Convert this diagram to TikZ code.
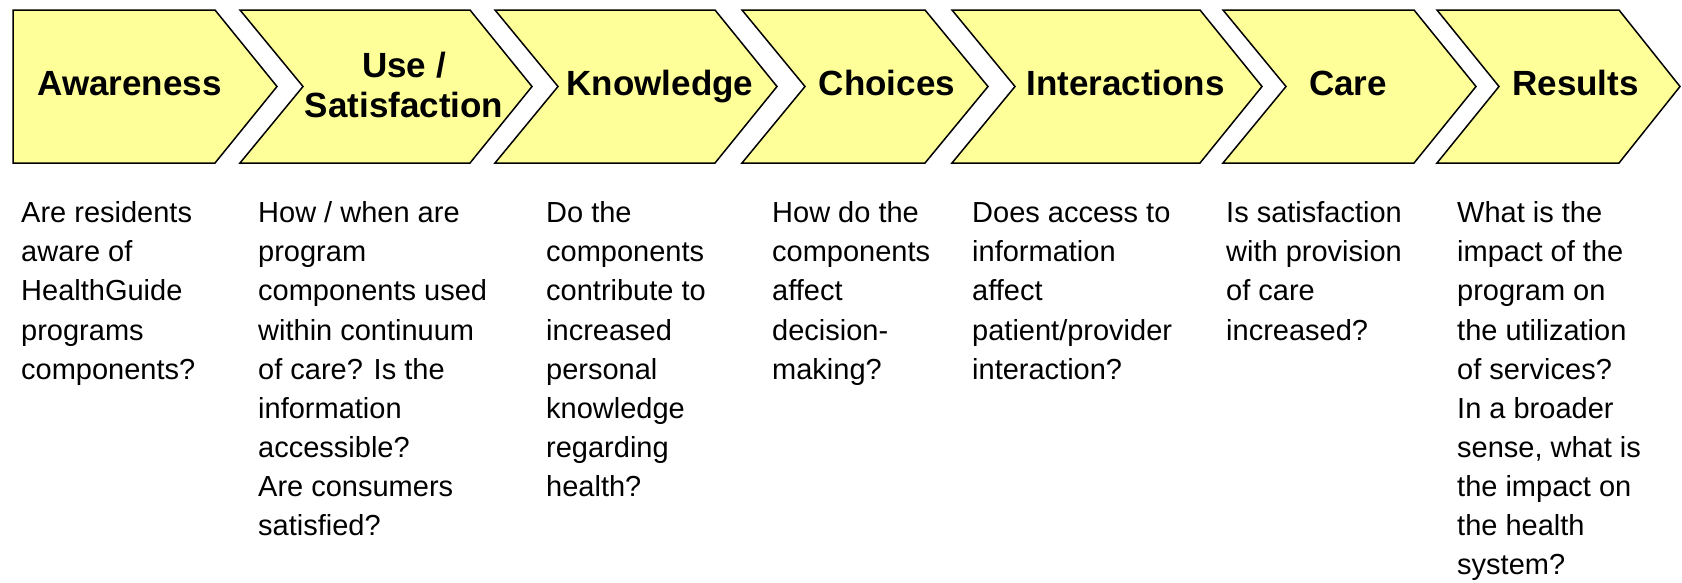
\documentclass[tikz,border=0pt]{standalone}
\usepackage{fontspec}
\setmainfont{Liberation Sans}
\definecolor{chevfill}{HTML}{FFFF99}
\begin{document}
\begin{tikzpicture}[x=1pt,y=-1pt,
  chev/.style={draw=black, line width=1.5pt, fill=chevfill, line join=miter},
  ttl/.style={font=\fontsize{35}{40}\selectfont\bfseries, inner sep=0pt, anchor=base},
  desc/.style={font=\fontsize{29}{39.1}\selectfont, inner sep=0pt, anchor=base west}]
\useasboundingbox (0,0) rectangle (1682,582);
\fill[white] (0,0) rectangle (1682,582);
% chevrons
\path[chev] (13,10) -- (215,10) -- (277,86.5) -- (215,163) -- (13,163) -- cycle;
\path[chev] (240,10) -- (470,10) -- (532,86.5) -- (470,163) -- (240,163) -- (303,86.5) -- cycle;
\path[chev] (495,10) -- (715,10) -- (777,86.5) -- (715,163) -- (495,163) -- (558,86.5) -- cycle;
\path[chev] (742,10) -- (925,10) -- (988,86.5) -- (925,163) -- (742,163) -- (805,86.5) -- cycle;
\path[chev] (952,10) -- (1200,10) -- (1262,86.5) -- (1200,163) -- (952,163) -- (1015,86.5) -- cycle;
\path[chev] (1223,10) -- (1414,10) -- (1476,86.5) -- (1414,163) -- (1223,163) -- (1286,86.5) -- cycle;
\path[chev] (1437,10) -- (1619,10) -- (1680,86.5) -- (1619,163) -- (1437,163) -- (1499,86.5) -- cycle;
% titles
\node[ttl] (t1) at (129.5,95.5) {Awareness};
\node[ttl] (t2) at (404,77) {\begin{tabular}[t]{@{}c@{}}Use /\\Satisfaction\end{tabular}};
\node[ttl] (t3) at (660,95.5) {Knowledge};
\node[ttl] (t4) at (887,95.5) {Choices};
\node[ttl] (t5) at (1125.5,95.5) {Interactions};
\node[ttl] (t6) at (1348,95.5) {Care};
\node[ttl] (t7) at (1575.5,95.5) {Results};
% descriptions
\node[desc] (d1) at (21,222.7) {\begin{tabular}[t]{@{}l@{}}Are residents\\aware of\\HealthGuide\\programs\\components?\end{tabular}};
\node[desc] (d2) at (258,222.7) {\begin{tabular}[t]{@{}l@{}}How / when are\\program\\components used\\within continuum\\of care? Is the\\information\\accessible?\\Are consumers\\satisfied?\end{tabular}};
\node[desc] (d3) at (546,222.7) {\begin{tabular}[t]{@{}l@{}}Do the\\components\\contribute to\\increased\\personal\\knowledge\\regarding\\health?\end{tabular}};
\node[desc] (d4) at (772,222.7) {\begin{tabular}[t]{@{}l@{}}How do the\\components\\affect\\decision-\\making?\end{tabular}};
\node[desc] (d5) at (972,222.7) {\begin{tabular}[t]{@{}l@{}}Does access to\\information\\affect\\patient/provider\\interaction?\end{tabular}};
\node[desc] (d6) at (1226,222.7) {\begin{tabular}[t]{@{}l@{}}Is satisfaction\\with provision\\of care\\increased?\end{tabular}};
\node[desc] (d7) at (1457,222.7) {\begin{tabular}[t]{@{}l@{}}What is the\\impact of the\\program on\\the utilization\\of services?\\In a broader\\sense, what is\\the impact on\\the health\\system?\end{tabular}};
\end{tikzpicture}
\end{document}
